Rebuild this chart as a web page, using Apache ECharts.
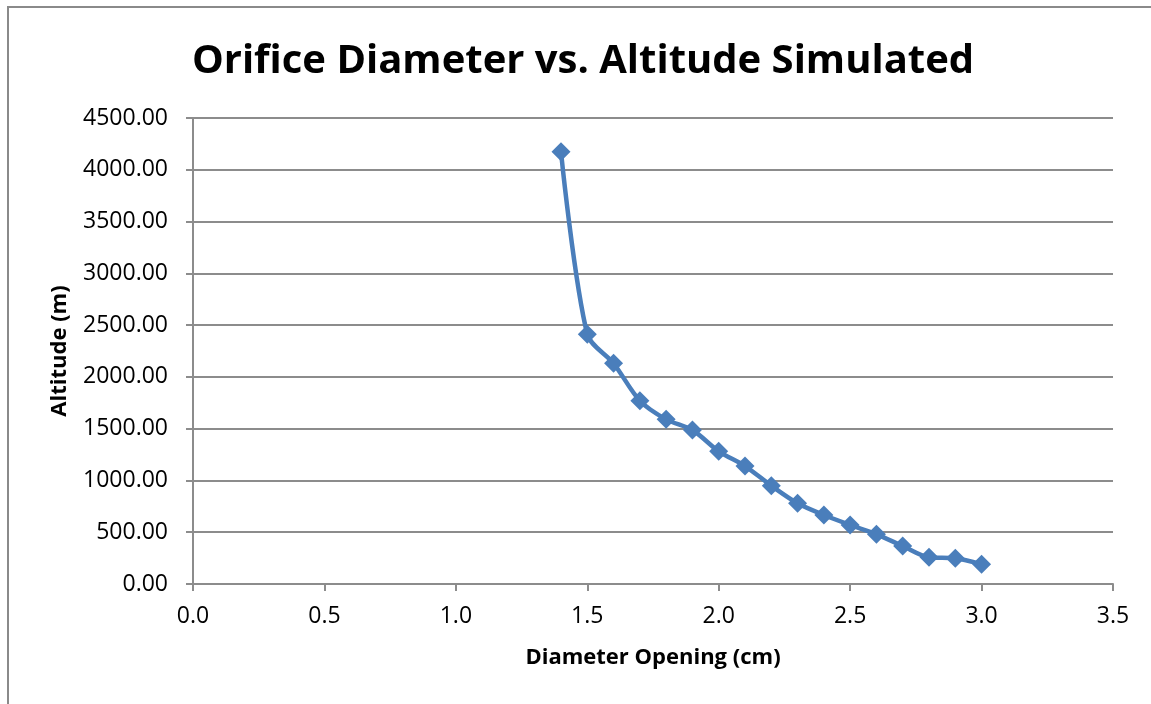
<!DOCTYPE html>
<html>
<head>
<meta charset="utf-8">
<script src="https://cdn.jsdelivr.net/npm/echarts@6/dist/echarts.min.js"></script>
<style>
html,body{margin:0;padding:0;background:#fff;}
#frame{position:absolute;left:7px;top:6px;width:1160px;height:720px;border:2px solid #8a8a8a;box-sizing:border-box;}
#chart{position:absolute;left:0;top:0;width:1151px;height:704px;}
</style>
</head>
<body>
<div id="frame"></div>
<div id="chart"></div>
<script>
const diameters = [1.4, 1.5, 1.6, 1.7, 1.8, 1.9, 2.0, 2.1, 2.2, 2.3, 2.4, 2.5, 2.6, 2.7, 2.8, 2.9, 3.0];
const altitudes = [4175, 2411, 2131, 1770, 1590, 1487, 1281, 1139, 949, 779, 666, 570, 480, 367, 258, 248, 190];
const titleText = 'Orifice Diameter vs. Altitude Simulated';
const xTitle = 'Diameter Opening (cm)';
const yTitle = 'Altitude (m)';

const points = diameters.map((d, i) => [d, altitudes[i]]);
const font = 'Open Sans';
const chart = echarts.init(document.getElementById('chart'), null, {renderer: 'canvas'});
chart.setOption({
  animation: false,
  backgroundColor: 'transparent',
  title: {
    text: titleText,
    left: 578, top: 37, textAlign: 'center',
    textStyle: {fontFamily: font, fontWeight: 'bold', fontSize: 40, color: '#000'}
  },
  grid: {left: 193, right: 38, top: 118, bottom: 120},
  xAxis: {
    type: 'value', min: 0, max: 3.5, interval: 0.5,
    name: xTitle, nameLocation: 'middle', nameGap: 63,
    nameTextStyle: {fontFamily: font, fontWeight: 'bold', fontSize: 22, color: '#000'},
    axisLine: {show: true, lineStyle: {color: '#8c8c8c', width: 2}},
    axisTick: {show: true, length: 7, lineStyle: {color: '#8c8c8c', width: 2}},
    axisLabel: {fontFamily: font, fontSize: 23, color: '#000', margin: 21, formatter: v => v.toFixed(1)},
    splitLine: {show: false}
  },
  yAxis: {
    type: 'value', min: 0, max: 4500, interval: 500,
    name: yTitle, nameLocation: 'middle', nameGap: 122, nameRotate: 90,
    nameTextStyle: {fontFamily: font, fontWeight: 'bold', fontSize: 22, color: '#000'},
    axisLine: {show: true, lineStyle: {color: '#8c8c8c', width: 2}},
    axisTick: {show: true, length: 7, lineStyle: {color: '#8c8c8c', width: 2}},
    axisLabel: {fontFamily: font, fontSize: 23, color: '#000', margin: 25, formatter: v => v.toFixed(2)},
    splitLine: {show: true, lineStyle: {color: '#8c8c8c', width: 2}}
  },
  series: [{
    type: 'line',
    data: points,
    smooth: 0.3,
    symbol: 'diamond',
    symbolSize: 19,
    lineStyle: {color: '#4a7ebb', width: 4.5},
    itemStyle: {color: '#4a7ebb'}
  }]
});
</script>
</body>
</html>
